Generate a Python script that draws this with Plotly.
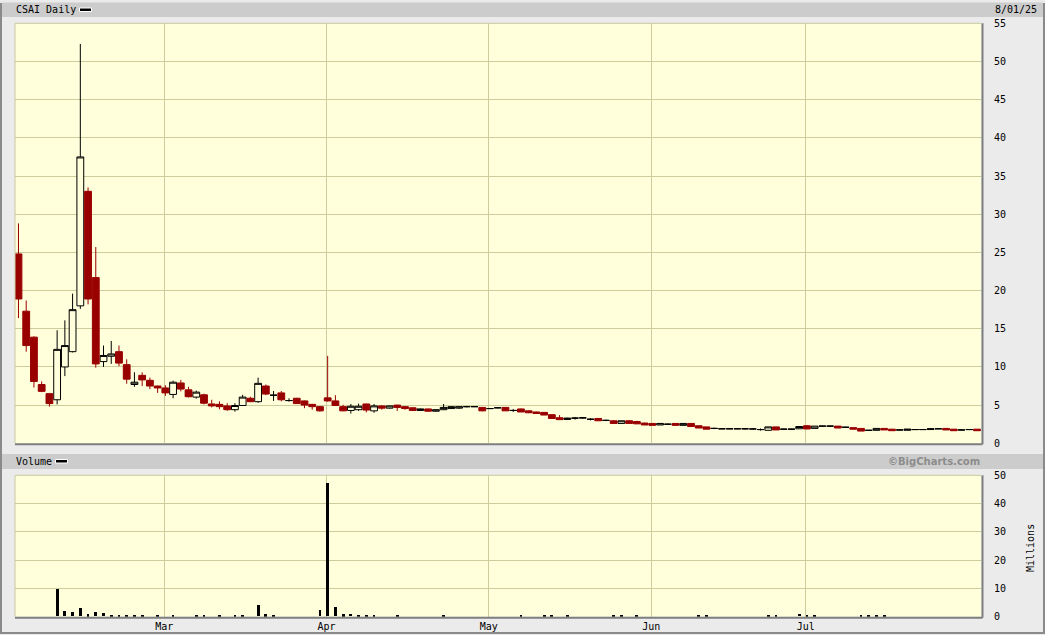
import plotly.graph_objects as go
import pandas as pd

W, H = 1045, 635

# ---- data ----
opens = [24.8, 17.3, 13.9, 7.7, 6.5, 5.7, 10.0, 12.0, 18.0, 33.0,
         21.7, 10.7, 11.4, 12.0, 10.3, 7.7, 8.9, 8.25, 7.5, 7.25,
         6.4, 7.9, 7.0, 6.05, 6.35, 5.15, 5.1, 4.9, 4.4, 4.95,
         5.9, 5.45, 7.5, 6.3, 6.6, 5.6, 5.9, 5.55, 5.1, 4.8,
         5.95, 5.55, 4.8, 4.3, 4.4, 5.15, 4.25, 4.9, 4.6, 5.0,
         4.8, 4.65, 4.3, 4.5, 4.2, 4.4, 4.55, 4.6, 4.8, 4.8,
         4.7, 4.55, 4.65, 4.7, 4.3, 4.5, 4.25, 4.1, 4.05, 3.75,
         3.35, 3.12, 3.3, 3.3, 3.15, 3.25, 3.0, 2.95, 2.6, 2.95,
         2.85, 2.65, 2.6, 2.4, 2.5, 2.6, 2.35, 2.6, 2.3, 2.15,
         1.95, 1.9, 1.9, 1.9, 1.9, 1.88, 1.8, 1.7, 2.15, 1.85,
         1.85, 1.9, 2.3, 1.95, 2.25, 2.25, 2.25, 2.1, 2.05, 1.95,
         1.7, 1.7, 1.95, 1.85, 1.75, 1.7, 1.8, 1.8, 1.8, 1.9,
         1.95, 1.85, 1.75, 1.8, 1.85]
highs = [28.8, 18.7, 14.0, 8.1, 6.6, 14.8, 16.1, 19.6, 52.3, 33.5,
         25.7, 12.8, 13.4, 12.8, 11.0, 9.3, 9.3, 8.6, 7.55, 7.6,
         8.2, 8.3, 7.4, 6.9, 6.5, 5.7, 5.5, 5.25, 5.25, 6.35,
         6.1, 8.6, 7.7, 6.85, 6.85, 5.9, 5.95, 5.6, 5.15, 4.85,
         11.45, 6.3, 5.05, 5.15, 5.2, 5.2, 5.15, 5.0, 4.95, 5.05,
         4.85, 4.7, 4.55, 4.55, 4.45, 5.15, 4.85, 4.85, 4.9, 4.85,
         4.75, 4.62, 4.72, 4.75, 4.5, 4.55, 4.3, 4.15, 4.1, 3.8,
         3.7, 3.35, 3.45, 3.4, 3.3, 3.3, 3.1, 3.0, 2.95, 3.05,
         2.95, 2.7, 2.65, 2.6, 2.6, 2.6, 2.6, 2.6, 2.3, 2.15,
         2.05, 1.95, 1.95, 1.95, 2.0, 1.93, 1.95, 2.15, 2.15, 1.9,
         1.9, 2.2, 2.4, 2.25, 2.3, 2.3, 2.25, 2.15, 2.05, 1.95,
         1.75, 1.95, 1.95, 1.85, 1.8, 1.85, 1.85, 1.85, 1.9, 1.95,
         1.95, 1.85, 1.8, 1.85, 1.85]
lows = [16.4, 12.0, 7.3, 6.7, 4.8, 5.1, 8.8, 11.9, 17.6, 18.2,
        9.9, 10.0, 10.4, 10.1, 7.8, 7.4, 7.5, 7.1, 6.6, 6.2,
        5.9, 6.8, 6.0, 5.85, 5.1, 4.7, 4.45, 4.25, 4.15, 4.95,
        5.4, 5.3, 6.3, 5.55, 5.5, 5.45, 5.15, 4.6, 4.4, 4.15,
        5.45, 4.9, 4.2, 3.9, 4.25, 4.05, 4.0, 4.4, 4.55, 4.25,
        4.4, 4.3, 4.25, 4.15, 4.15, 4.35, 4.5, 4.5, 4.7, 4.75,
        4.2, 4.48, 4.58, 4.25, 4.1, 4.1, 3.95, 3.85, 3.7, 3.25,
        3.05, 3.05, 3.1, 3.25, 3.0, 2.95, 2.9, 2.6, 2.6, 2.6,
        2.5, 2.4, 2.35, 2.4, 2.4, 2.35, 2.35, 2.2, 2.0, 1.85,
        1.85, 1.85, 1.85, 1.85, 1.8, 1.83, 1.65, 1.7, 1.75, 1.8,
        1.8, 1.9, 1.85, 1.95, 2.2, 2.2, 2.0, 2.05, 1.85, 1.6,
        1.65, 1.7, 1.75, 1.65, 1.7, 1.7, 1.75, 1.75, 1.8, 1.85,
        1.75, 1.65, 1.7, 1.75, 1.65]
closes = [18.9, 12.8, 8.1, 6.8, 5.2, 12.3, 12.8, 17.5, 37.5, 18.9,
          10.4, 11.5, 11.7, 10.5, 8.4, 8.0, 8.3, 7.5, 7.25, 6.6,
          8.0, 7.1, 6.1, 6.7, 5.25, 4.9, 4.8, 4.4, 4.95, 6.05,
          5.45, 7.85, 6.45, 6.3, 5.7, 5.6, 5.2, 5.0, 4.8, 4.25,
          5.55, 4.95, 4.25, 4.85, 4.85, 4.35, 4.9, 4.6, 4.9, 4.7,
          4.55, 4.3, 4.5, 4.2, 4.4, 4.7, 4.8, 4.8, 4.8, 4.8,
          4.25, 4.55, 4.65, 4.25, 4.3, 4.1, 4.0, 3.9, 3.7, 3.25,
          3.1, 3.3, 3.3, 3.35, 3.15, 2.95, 3.0, 2.6, 2.95, 2.6,
          2.55, 2.4, 2.35, 2.6, 2.5, 2.35, 2.6, 2.2, 2.0, 1.85,
          1.95, 1.9, 1.9, 1.9, 1.9, 1.88, 1.8, 2.15, 1.75, 1.85,
          1.85, 2.2, 1.88, 2.25, 2.25, 2.25, 2.0, 2.1, 1.85, 1.6,
          1.7, 1.95, 1.75, 1.65, 1.75, 1.85, 1.8, 1.8, 1.9, 1.9,
          1.75, 1.65, 1.75, 1.8, 1.65]
volumes_m = [0, 0, 0, 0, 0, 9.7, 2.0, 1.65, 3.1, 0.7,
             1.65, 1.3, 0.6, 0.3, 0.3, 0.3, 0.6, 0, 0.3, 0,
             0.3, 0, 0, 0.3, 0.3, 0, 0.3, 0, 0.3, 0.3,
             0, 4.2, 0.7, 0.3, 0, 0, 0, 0, 0, 2.3,
             47.1, 3.3, 0.7, 1.0, 0.35, 0.35, 0.35, 0, 0, 0.35,
             0, 0, 0, 0, 0, 0.35, 0, 0, 0, 0,
             0, 0, 0, 0, 0, 0.35, 0, 0, 0.35, 0.35,
             0, 0.35, 0, 0, 0, 0, 0, 0.35, 0.35, 0,
             0.35, 0, 0, 0, 0, 0, 0, 0, 0.35, 0.35,
             0, 0, 0, 0, 0, 0, 0, 0.35, 0.35, 0,
             0, 1.0, 0.35, 0.35, 0, 0, 0, 0, 0, 0.35,
             0.35, 0.35, 0.35, 0, 0, 0, 0, 0, 0, 0,
             0, 0, 0, 0, 0]
holidays = ["2025-02-17", "2025-04-18", "2025-05-26", "2025-06-19", "2025-07-04"]
price_ticks = [0, 5, 10, 15, 20, 25, 30, 35, 40, 45, 50, 55]
volume_ticks = [0, 10, 20, 30, 40, 50]
title_text = "CSAI Daily"
date_text = "8/01/25"

# ---- derived ----
n = len(opens)
dates = pd.bdate_range("2025-02-03", "2025-08-01", freq="C", holidays=holidays)[:n]
idx = list(range(n))
month_pos, month_lab = [], []
for i in range(1, n):
    if dates[i].month != dates[i - 1].month and n - i > 5:
        month_pos.append(i - 0.15)
        month_lab.append(dates[i].strftime("%b"))

red_set = [i for i in idx if closes[i] < opens[i]]
blk_set = [i for i in idx if i not in red_set]

PLOTBG = "#FFFFDC"
PAPER = "#EBEBEB"
GRID = "#CDCD9C"
RED = "#990000"
FONT = "DejaVu Sans Mono"


def sub(lst, s):
    return [lst[i] for i in s]


def px(x):
    return x / W


def py(y):
    return 1 - y / H


fig = go.Figure()
fig.add_trace(go.Candlestick(
    x=blk_set, open=sub(opens, blk_set), high=sub(highs, blk_set),
    low=sub(lows, blk_set), close=sub(closes, blk_set),
    increasing=dict(line=dict(color="black", width=1), fillcolor=PLOTBG),
    decreasing=dict(line=dict(color="black", width=1), fillcolor=PLOTBG),
    whiskerwidth=0, showlegend=False, hoverinfo="skip", xaxis="x", yaxis="y"))
fig.add_trace(go.Candlestick(
    x=red_set, open=sub(opens, red_set), high=sub(highs, red_set),
    low=sub(lows, red_set), close=sub(closes, red_set),
    increasing=dict(line=dict(color=RED, width=1), fillcolor=RED),
    decreasing=dict(line=dict(color=RED, width=1), fillcolor=RED),
    whiskerwidth=0, showlegend=False, hoverinfo="skip", xaxis="x", yaxis="y"))
fig.add_trace(go.Bar(
    x=idx, y=volumes_m, width=0.36, marker=dict(color="black", line=dict(width=0)),
    showlegend=False, hoverinfo="skip", xaxis="x2", yaxis="y2"))

xr = [-0.45, 124.52]
common_x = dict(range=xr, domain=[px(15), px(981)], tickvals=month_pos, ticktext=month_lab,
                showgrid=True, gridcolor=GRID, gridwidth=1, zeroline=False, showline=False,
                ticks="", tickfont=dict(family=FONT, size=10, color="black"),
                rangeslider=dict(visible=False), fixedrange=True, automargin=False)
fig.update_layout(
    width=W, height=H, autosize=False,
    margin=dict(l=0, r=0, t=0, b=0, pad=0, autoexpand=False),
    paper_bgcolor=PAPER, plot_bgcolor=PLOTBG,
    boxgap=0.12, boxgroupgap=0.0, bargap=0,
    xaxis=dict(common_x, anchor="y", showticklabels=False),
    xaxis2=dict(common_x, anchor="y2", matches="x", showticklabels=True, ticklabelstandoff=2),
    yaxis=dict(domain=[py(443.3), py(23.3)], range=[0, 55], side="right", anchor="x",
               tickvals=price_ticks, showgrid=True, gridcolor=GRID, zeroline=False,
               ticks="", ticklabelstandoff=12, automargin=False,
               tickfont=dict(family=FONT, size=10, color="black"), fixedrange=True),
    yaxis2=dict(domain=[py(616.7), py(475.3)], range=[0, 50], side="right", anchor="x2",
                tickvals=volume_ticks, showgrid=True, gridcolor=GRID, zeroline=False,
                ticks="", ticklabelstandoff=12, automargin=False,
                tickfont=dict(family=FONT, size=10, color="black"), fixedrange=True),
)

shapes = []
# header bands
shapes.append(dict(type="rect", xref="paper", yref="paper", x0=px(2), x1=px(1043),
                   y0=py(17), y1=py(2.5), fillcolor="#CCCCCC", line=dict(width=0), layer="below"))
shapes.append(dict(type="rect", xref="paper", yref="paper", x0=px(2), x1=px(1043),
                   y0=py(469), y1=py(454), fillcolor="#CCCCCC", line=dict(width=0), layer="below"))
# legend dashes
shapes.append(dict(type="rect", xref="paper", yref="paper", x0=px(79.5), x1=px(91.5),
                   y0=py(11.5), y1=py(8), fillcolor="black", line=dict(color="white", width=1)))
shapes.append(dict(type="rect", xref="paper", yref="paper", x0=px(55.5), x1=px(67.5),
                   y0=py(463), y1=py(459.5), fillcolor="black", line=dict(color="white", width=1)))
# plot borders (bevel)
for top, bot in [(23.3, 443.3), (475.3, 616.7)]:
    shapes.append(dict(type="line", xref="paper", yref="paper", x0=px(15), x1=px(981),
                       y0=py(top), y1=py(top), line=dict(color="#C8C8A0", width=1)))
    shapes.append(dict(type="line", xref="paper", yref="paper", x0=px(15), x1=px(15),
                       y0=py(top), y1=py(bot), line=dict(color="#C8C8A0", width=1)))
    shapes.append(dict(type="line", xref="paper", yref="paper", x0=px(15), x1=px(982.5),
                       y0=py(bot + 1), y1=py(bot + 1), line=dict(color="#7F7F7F", width=2)))
    shapes.append(dict(type="line", xref="paper", yref="paper", x0=px(982.5), x1=px(982.5),
                       y0=py(top), y1=py(bot + 1), line=dict(color="#7F7F7F", width=2)))
# outer frame
shapes.append(dict(type="line", xref="paper", yref="paper", x0=px(1), x1=px(1),
                   y0=py(3), y1=py(634), line=dict(color="#8A8A8A", width=2)))
shapes.append(dict(type="line", xref="paper", yref="paper", x0=px(1), x1=px(1044),
                   y0=py(633), y1=py(633), line=dict(color="#8A8A8A", width=2)))
shapes.append(dict(type="line", xref="paper", yref="paper", x0=px(1044), x1=px(1044),
                   y0=py(3), y1=py(634), line=dict(color="#8A8A8A", width=2)))
fig.update_layout(shapes=shapes)

ann = [
    dict(text=title_text, x=px(14), y=py(10), xanchor="left", yanchor="middle",
         font=dict(family=FONT, size=10, color="black")),
    dict(text=date_text, x=px(1039), y=py(10), xanchor="right", yanchor="middle",
         font=dict(family=FONT, size=10, color="black")),
    dict(text="Volume", x=px(14), y=py(461.5), xanchor="left", yanchor="middle",
         font=dict(family=FONT, size=10, color="black")),
    dict(text="©BigCharts.com", x=px(982), y=py(461.5), xanchor="right", yanchor="middle",
         font=dict(family="DejaVu Sans", size=10, color="#8C8C8C", weight="bold")),
    dict(text="Millions", x=px(1030), y=py(548), xanchor="center", yanchor="middle",
         textangle=-90, font=dict(family=FONT, size=10, color="black")),
]
for a in ann:
    a.update(xref="paper", yref="paper", showarrow=False)
fig.update_layout(annotations=ann)

fig.write_html("out.html", config={"displayModeBar": False},
               post_script="document.body.style.margin='0';document.body.style.padding='0';")
